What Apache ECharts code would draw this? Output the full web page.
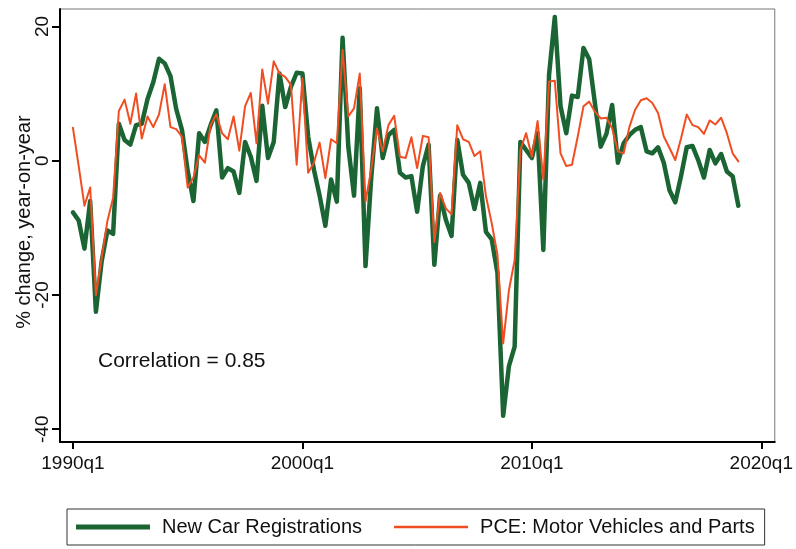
<!DOCTYPE html>
<html>
<head>
<meta charset="utf-8">
<script src="https://cdn.jsdelivr.net/npm/echarts@6/dist/echarts.min.js"></script>
<style>
html,body{margin:0;padding:0;background:#fff;}
#chart{width:796px;height:549px;}
</style>
</head>
<body>
<div id="chart"></div>
<script>
// Quarterly data, first observation 1990q1 (index 0)
var startYear = 1990;
var newCarRegistrations = [
  -7.7,-8.9,-13.1,-6.0,-22.5,-15.0,-10.4,-10.9,5.5,3.1,
  2.4,5.3,5.5,9.2,11.7,15.2,14.5,12.6,7.7,4.6,
  -1.5,-6.0,4.1,2.8,5.3,7.5,-2.5,-1.1,-1.6,-4.8,
  2.8,0.6,-3.0,8.2,0.4,2.8,13.0,8.0,11.0,13.1,
  13.0,3.6,-1.3,-5.2,-9.7,-2.8,-6.1,18.3,2.1,-5.2,
  10.8,-15.7,-2.5,7.8,0.4,3.8,4.6,-1.8,-2.5,-2.3,
  -7.6,-0.8,2.4,-15.5,-5.2,-8.8,-11.2,3.1,-2.1,-3.3,
  -7.2,-3.3,-10.6,-11.7,-16.7,-38.0,-30.6,-27.7,2.8,1.6,
  0.4,4.1,-13.3,12.8,21.4,8.1,4.1,9.7,9.5,16.8,
  15.1,8.5,2.1,4.0,8.3,-0.3,2.6,3.8,4.6,5.0,
  1.4,1.1,2.0,-0.3,-4.4,-6.2,-2.3,2.0,2.2,0.1,
  -2.5,1.6,-0.4,1.0,-1.6,-2.3,-6.7
];
var pceMotorVehicles = [
  4.9,-0.8,-6.7,-4.0,-20.0,-14.5,-9.0,-5.5,7.4,9.1,
  5.5,10.0,3.3,6.6,5.0,6.9,11.4,5.0,4.7,3.6,
  -4.0,-2.5,0.8,-0.3,5.3,6.9,4.1,3.2,6.6,1.5,
  8.1,10.1,2.6,13.6,8.5,14.8,13.0,12.5,11.3,-0.6,
  12.3,-1.8,-0.3,2.7,-2.6,3.2,2.6,16.5,6.6,7.8,
  13.0,-6.1,-1.3,4.8,1.4,5.3,6.7,0.6,0.4,3.5,
  -1.1,3.7,3.5,-12.1,-4.8,-7.1,-8.0,5.3,3.2,2.8,
  0.7,1.4,-5.3,-9.3,-14.0,-27.2,-19.3,-14.8,1.6,4.1,
  0.6,5.9,-2.8,11.8,11.9,1.1,-0.8,-0.6,3.6,8.1,
  8.8,7.3,6.3,6.4,4.8,1.4,1.1,5.0,7.6,9.0,
  9.3,8.6,7.1,3.6,1.9,0.1,3.3,6.9,5.3,5.0,
  4.0,6.0,5.4,6.4,4.1,1.1,-0.1
];
var xTickValues = [0, 40, 80, 120];
var xTickLabels = ['1990q1', '2000q1', '2010q1', '2020q1'];
var yTickValues = [-40, -20, 0, 20];
var seriesNames = ['New Car Registrations', 'PCE: Motor Vehicles and Parts'];
var correlationText = 'Correlation = 0.85';

function toPairs(arr) {
  return arr.map(function (v, i) { return [i, v]; });
}

var chart = echarts.init(document.getElementById('chart'), null, {renderer: 'canvas'});
var FONT = 'Liberation Sans, Arial, Helvetica, sans-serif';
var GREEN = '#1b6535';
var ORANGE = '#f04e22';

chart.setOption({
  animation: false,
  backgroundColor: '#ffffff',
  grid: {
    left: 60, right: 20, top: 9, bottom: 107,
    show: true, borderColor: '#777777', borderWidth: 1, backgroundColor: '#ffffff'
  },
  xAxis: {
    type: 'value',
    min: -2.26, max: 122.35,
    axisLine: {show: true, onZero: false, lineStyle: {color: '#000', width: 2}},
    axisTick: {show: true, length: 7, customValues: xTickValues, lineStyle: {color: '#000', width: 2}},
    axisLabel: {
      show: true, customValues: xTickValues, margin: 12,
      fontFamily: FONT, fontSize: 19, color: '#111',
      formatter: function (v) {
        var k = xTickValues.indexOf(Math.round(v));
        return k >= 0 ? xTickLabels[k] : '';
      }
    },
    splitLine: {show: false}
  },
  yAxis: {
    type: 'value',
    min: -41.9, max: 22.6,
    axisLine: {show: true, onZero: false, lineStyle: {color: '#000', width: 2}},
    axisTick: {show: true, length: 8, customValues: yTickValues, lineStyle: {color: '#000', width: 2}},
    axisLabel: {
      show: true, customValues: yTickValues, rotate: 90, margin: 8,
      align: 'center', verticalAlign: 'bottom',
      fontFamily: FONT, fontSize: 19, color: '#111',
      formatter: function (v) { return String(Math.round(v)); }
    },
    splitLine: {show: false}
  },
  legend: {
    show: true,
    left: 67, top: 509,
    width: 700,
    padding: [8, 10, 8, 9],
    itemGap: 32,
    itemWidth: 74, itemHeight: 14,
    borderColor: '#333', borderWidth: 1,
    textStyle: {fontFamily: FONT, fontSize: 20, color: '#111', padding: [0, 0, 0, 7]},
    data: [
      {name: seriesNames[0], icon: 'path://M0,0 L74,0 L74,5 L0,5 Z'},
      {name: seriesNames[1], icon: 'path://M0,0 L74,0 L74,2.6 L0,2.6 Z'}
    ]
  },
  graphic: [
    {
      type: 'text', left: 98, top: 351,
      style: {text: correlationText, font: '21px ' + FONT, fill: '#111'}
    },
    {
      type: 'text', x: 24, y: 222, rotation: Math.PI / 2,
      style: {text: '% change, year-on-year', font: '20px ' + FONT, fill: '#111', align: 'center', verticalAlign: 'middle'}
    }
  ],
  series: [
    {
      name: seriesNames[0], type: 'line', data: toPairs(newCarRegistrations),
      showSymbol: false, symbol: 'none',
      lineStyle: {color: GREEN, width: 4.5, join: 'round', cap: 'round'},
      itemStyle: {color: GREEN}
    },
    {
      name: seriesNames[1], type: 'line', data: toPairs(pceMotorVehicles),
      showSymbol: false, symbol: 'none',
      lineStyle: {color: ORANGE, width: 2, join: 'round', cap: 'round'},
      itemStyle: {color: ORANGE}
    }
  ]
});
</script>
</body>
</html>
